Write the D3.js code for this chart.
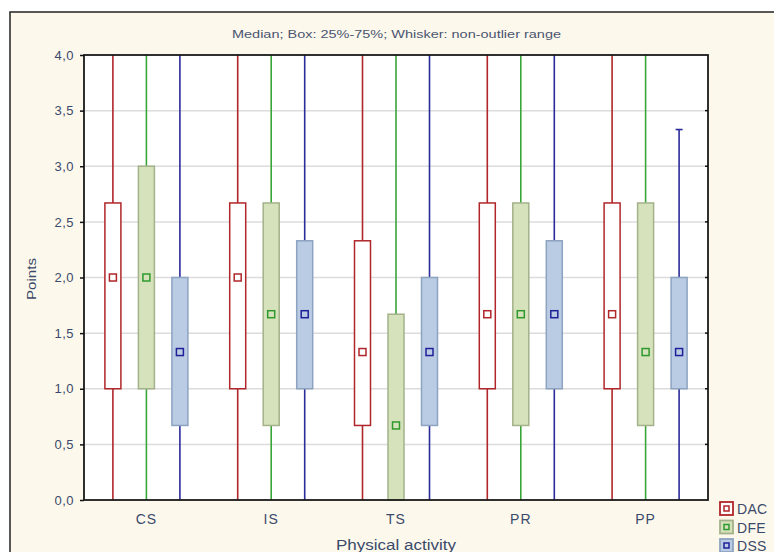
<!DOCTYPE html>
<html>
<head>
<meta charset="utf-8">
<script src="https://cdn.jsdelivr.net/npm/d3@7"></script>
<style>
body { margin: 0; background: #fff; }
svg text { font-family: "Liberation Sans", Arial, sans-serif; }
</style>
</head>
<body>
<div id="viz"></div>
<script>
var svg_width = 774;
var svg_height = 552;

var categories = ["CS", "IS", "TS", "PR", "PP"];
var seriesNames = ["DAC", "DFE", "DSS"];
// [min, q1, median, q3, max] per category
var dac = [[0, 1.0, 2.0, 2.67, 4], [0, 1.0, 2.0, 2.67, 4], [0, 0.67, 1.33, 2.33, 4], [0, 1.0, 1.67, 2.67, 4], [0, 1.0, 1.67, 2.67, 4]];
var dfe = [[0, 1.0, 2.0, 3.0, 4], [0, 0.67, 1.67, 2.67, 4], [0, 0, 0.67, 1.67, 4], [0, 0.67, 1.67, 2.67, 4], [0, 0.67, 1.33, 2.67, 4]];
var dss = [[0, 0.67, 1.33, 2.0, 4], [0, 1.0, 1.67, 2.33, 4], [0, 0.67, 1.33, 2.0, 4], [0, 1.0, 1.67, 2.33, 4], [0, 1.0, 1.33, 2.0, 3.33]];
var yTicks = [0, 0.5, 1, 1.5, 2, 2.5, 3, 3.5, 4];

var styles = {
  DAC: {whisker: "#b0262a", fill: "#ffffff", stroke: "#b0262a", med: "#b0262a"},
  DFE: {whisker: "#3aa63a", fill: "#d6e2bb", stroke: "#a3b28a", med: "#2e9a2e"},
  DSS: {whisker: "#2b2b9b", fill: "#b9cce4", stroke: "#8da3c0", med: "#1f1f99"}
};
var allSeries = [dac, dfe, dss];

var margin = {left: 84, top: 55, right: 66, bottom: 52};
var plot_w = svg_width - margin.left - margin.right;

var svg = d3.select('#viz')
.append('svg')
.attr('width', svg_width)
.attr('height', svg_height);

// cream background with frame
svg.append('rect')
.attr('x', 10).attr('y', 12)
.attr('width', 800).attr('height', 600)
.attr('fill', '#fdf8ec')
.attr('stroke', '#222')
.attr('stroke-width', 1.5);

var x = d3.scaleBand().domain(categories).range([margin.left, margin.left + plot_w]);
var y = d3.scaleLinear().domain([0, 4]).range([500, 55]);
var off = d3.scalePoint().domain(seriesNames).range([-33.5, 33.5]);

var g = svg.append('g');

g.append('rect')
.attr('x', margin.left).attr('y', y(4))
.attr('width', plot_w).attr('height', y(0) - y(4))
.attr('fill', '#fff');

// gridlines
g.selectAll('line.grid')
.data(yTicks.slice(1, -1))
.enter()
.append('line')
.attr('x1', margin.left).attr('x2', margin.left + plot_w)
.attr('y1', d => y(d)).attr('y2', d => y(d))
.attr('stroke', '#dcdcdc')
.attr('stroke-width', 1.5);

// boxes
var boxW = 16;
seriesNames.forEach(function(name, si){
  var st = styles[name];
  var grp = g.append('g');
  var data = allSeries[si].map((d, i) => ({cat: categories[i], v: d}));
  var cx = d => x(d.cat) + x.bandwidth() / 2 + off(name);

  grp.selectAll('line.w')
  .data(data).enter().append('line')
  .attr('x1', cx).attr('x2', cx)
  .attr('y1', d => y(d.v[0])).attr('y2', d => y(d.v[4]))
  .attr('stroke', st.whisker).attr('stroke-width', 1.6);

  grp.selectAll('line.cap')
  .data(data.filter(d => d.v[4] < 4)).enter().append('line')
  .attr('x1', d => cx(d) - 3.5).attr('x2', d => cx(d) + 3.5)
  .attr('y1', d => y(d.v[4])).attr('y2', d => y(d.v[4]))
  .attr('stroke', st.whisker).attr('stroke-width', 1.6);

  grp.selectAll('rect.box')
  .data(data).enter().append('rect')
  .attr('x', d => cx(d) - boxW / 2)
  .attr('y', d => y(d.v[3]))
  .attr('width', boxW)
  .attr('height', d => y(d.v[1]) - y(d.v[3]))
  .attr('fill', st.fill)
  .attr('stroke', st.stroke)
  .attr('stroke-width', 1.5);

  grp.selectAll('rect.med')
  .data(data).enter().append('rect')
  .attr('x', d => cx(d) - 3.5)
  .attr('y', d => y(d.v[2]) - 3.5)
  .attr('width', 7).attr('height', 7)
  .attr('fill', st.fill)
  .attr('stroke', st.med)
  .attr('stroke-width', 1.5);
});

// frame of plot
g.append('rect')
.attr('x', margin.left).attr('y', y(4))
.attr('width', plot_w).attr('height', y(0) - y(4))
.attr('fill', 'none')
.attr('stroke', '#1a1a1a')
.attr('stroke-width', 1.8);

// y axis
var yAxis = d3.axisLeft(y).tickValues(yTicks).tickSize(4).tickFormat(d => d3.format('.1f')(d).replace('.', ','));
var ya = g.append('g').attr('transform', 'translate(' + margin.left + ',0)').call(yAxis);
ya.select('.domain').remove();
ya.selectAll('line').attr('stroke', '#111').attr('stroke-width', 1.5);
ya.selectAll('text').attr('font-size', 13).attr('letter-spacing', 0.5).attr('fill', '#3a4a6a').attr('dx', -3);

// right ticks
g.selectAll('line.rt')
.data(yTicks.slice(1, -1)).enter().append('line')
.attr('x1', margin.left + plot_w - 3).attr('x2', margin.left + plot_w)
.attr('y1', d => y(d)).attr('y2', d => y(d))
.attr('stroke', '#111').attr('stroke-width', 1.5);

// x labels
g.selectAll('text.xl')
.data(categories).enter().append('text')
.text(d => d)
.attr('x', d => x(d) + x.bandwidth() / 2)
.attr('y', 524)
.attr('text-anchor', 'middle')
.attr('font-size', 14)
.attr('letter-spacing', 1)
.attr('fill', '#3a4a6a');

// titles
svg.append('text')
.text('Median; Box: 25%-75%; Whisker: non-outlier range')
.attr('x', 232).attr('y', 38)
.attr('textLength', 329)
.attr('lengthAdjust', 'spacingAndGlyphs')
.attr('font-size', 11)
.attr('fill', '#4a5570');

svg.append('text')
.text('Physical activity')
.attr('x', 336).attr('y', 550)
.attr('textLength', 120)
.attr('lengthAdjust', 'spacingAndGlyphs')
.attr('font-size', 14)
.attr('fill', '#3a4a6a');

svg.append('text')
.text('Points')
.attr('transform', 'translate(36,' + 300 + ') rotate(-90)')
.attr('textLength', 42)
.attr('lengthAdjust', 'spacingAndGlyphs')
.attr('font-size', 13)
.attr('fill', '#3a4a6a');

// legend
var leg = svg.selectAll('g.leg')
.data(seriesNames).enter().append('g')
.attr('transform', (d, i) => 'translate(720,' + (502 + i * 18.5) + ')');

leg.append('rect')
.attr('width', 13).attr('height', 13)
.attr('fill', d => styles[d].fill)
.attr('stroke', d => styles[d].stroke)
.attr('stroke-width', 1.8);

leg.append('rect')
.attr('x', 4).attr('y', 4)
.attr('width', 5).attr('height', 5)
.attr('fill', 'none')
.attr('stroke', d => styles[d].med)
.attr('stroke-width', 1.5);

leg.append('text')
.text(d => d)
.attr('x', 17).attr('y', 12)
.attr('font-size', 14)
.attr('letter-spacing', 0.3)
.attr('fill', '#3a4a6a');
</script>
</body>
</html>
